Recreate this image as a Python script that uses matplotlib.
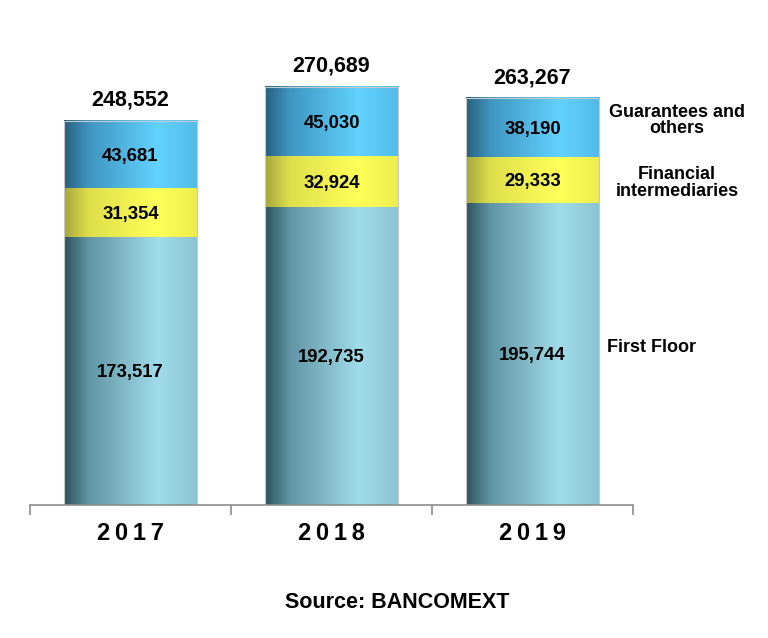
import matplotlib.pyplot as plt
import numpy as np
from matplotlib.colors import LinearSegmentedColormap

plt.rcParams['font.family'] = ['Liberation Sans', 'DejaVu Sans']

years = ["2017", "2018", "2019"]
first_floor = [173517, 192735, 195744]
financial = [31354, 32924, 29333]
guarantees = [43681, 45030, 38190]
totals = [248552, 270689, 263267]
series_names = ["First Floor", "Financial\nintermediaries", "Guarantees and\nothers"]

# cylinder-like horizontal shading per series
cmaps = [
    LinearSegmentedColormap.from_list("ff", [(0, "#2e535e"), (0.18, "#5f94a3"), (0.7, "#a1dcea"), (1, "#8ac3d1")]),
    LinearSegmentedColormap.from_list("fi", [(0, "#a6a63c"), (0.18, "#dede4c"), (0.7, "#ffff58"), (1, "#ecec4e")]),
    LinearSegmentedColormap.from_list("gu", [(0, "#27607d"), (0.18, "#3f95c0"), (0.7, "#62d2ff"), (1, "#52bbe8")]),
]

fig = plt.figure(figsize=(7.68, 6.38), dpi=100)
ax = fig.add_axes([30 / 768, 133 / 638, 603 / 768, 463.5 / 638])

x = np.arange(len(years))
width = 0.665
grad = np.linspace(0, 1, 256).reshape(1, -1)

bottom = np.zeros(len(years))
for vals, cmap in zip([first_floor, financial, guarantees], cmaps):
    bars = ax.bar(x, vals, width, bottom=bottom, color="none", edgecolor="none")
    for b, v in zip(bars, vals):
        x0, y0 = b.get_xy()
        ax.imshow(grad, cmap=cmap, aspect="auto", interpolation="bicubic",
                  extent=(x0, x0 + b.get_width(), y0, y0 + b.get_height()), zorder=1)
        ax.text(b.get_x() + b.get_width() / 2, y0 + b.get_height() / 2 - 1000, f"{v:,}",
                ha="center", va="center", fontsize=13.3, fontweight="bold", zorder=3)
    bottom += np.array(vals)

# thin outline around each whole bar
for xi, t in zip(x, totals):
    ax.add_patch(plt.Rectangle((xi - width / 2, 0), width, t, fill=False,
                               edgecolor="#c8c8c8", linewidth=0.8, zorder=2))
    ax.text(xi, t + 6500, f"{t:,}", ha="center", va="bottom",
            fontsize=15.5, fontweight="bold")

# series labels on the right, next to the 2019 bar
label_x = [2.59, 2.72, 2.72]
label_dy = [4000, -2000, 4500]
last_bottom = 0
for name, vals, lx, dy in zip(series_names, [first_floor, financial, guarantees], label_x, label_dy):
    mid = last_bottom + vals[-1] / 2
    last_bottom += vals[-1]
    ax.text(lx, mid + dy, name, ha="center", va="center", fontsize=13,
            fontweight="bold", linespacing=0.95, clip_on=False)

ax.set_xlim(-0.5, 2.5)
ax.set_ylim(0, 300000)
for s in ["top", "right", "left"]:
    ax.spines[s].set_visible(False)
ax.spines["bottom"].set_color("#8c8c8c")
ax.spines["bottom"].set_linewidth(1.2)
ax.set_yticks([])
ax.set_xticks([-0.5, 0.5, 1.5, 2.5])
ax.set_xticklabels([])
ax.tick_params(axis="x", which="major", length=7, color="#8c8c8c", width=1.2)
ax.set_xticks(x, minor=True)
ax.set_xticklabels(["\u2009".join(y) for y in years], minor=True,
                   fontsize=17, fontweight="bold")
ax.tick_params(axis="x", which="minor", length=0, pad=12)

fig.text(397 / 768, 1 - 603 / 638, "Source: BANCOMEXT", ha="center", va="center",
         fontsize=15.5, fontweight="bold")

fig.savefig("out.png", dpi=100)
